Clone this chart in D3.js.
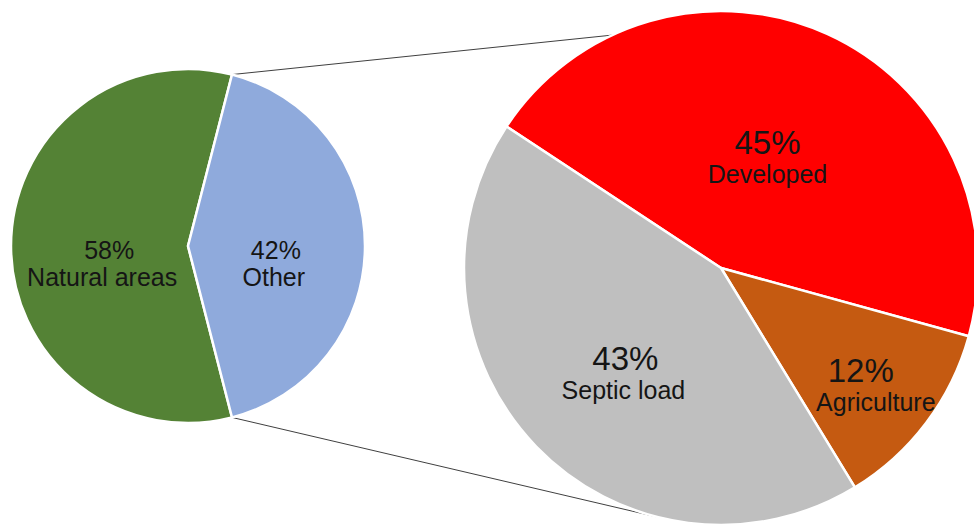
<!DOCTYPE html>
<html>
<head>
<meta charset="utf-8">
<script src="https://cdn.jsdelivr.net/npm/d3@7"></script>
<style>
  html, body { margin: 0; padding: 0; background: #fff; }
  svg { display: block; }
  text { font-family: "Liberation Sans", Arial, sans-serif; fill: #151515; }
</style>
</head>
<body>
<svg id="chart" width="974" height="527"></svg>
<script>
// ---- data ----
const mainCategories = ["Natural areas", "Other"];
const mainValues = [58, 42];
const mainColors = ["#548235", "#8faadc"];

const subCategories = ["Developed", "Agriculture", "Septic load"];
const subValues = [45, 12, 43];
const subColors = ["#ff0000", "#c55a11", "#bfbfbf"];

// ---- layout ----
const svg = d3.select("#chart");
const deg = Math.PI / 180;

const main = { cx: 188, cy: 246, r: 177 };
const sub = { cx: 721, cy: 268, r: 257 };

// Main pie: "Other" slice centred on the right side (90deg)
const otherShare = mainValues[1] / d3.sum(mainValues);
const otherHalf = otherShare * Math.PI;
const mainStart = Math.PI / 2 + otherHalf;
const mainPie = d3.pie().sort(null).value(d => d)
  .startAngle(mainStart).endAngle(mainStart + 2 * Math.PI);
const mainArcs = mainPie(mainValues);

const subStart = -56.6 * deg;
const subPie = d3.pie().sort(null).value(d => d)
  .startAngle(subStart).endAngle(subStart + 2 * Math.PI);
const subArcs = subPie(subValues);

// ---- connector lines (drawn beneath the pies) ----
const otherArc = mainArcs[1];
function onCircle(c, a) { return [c.cx + c.r * Math.sin(a), c.cy - c.r * Math.cos(a)]; }
const pTop = onCircle(main, otherArc.startAngle - 2 * Math.PI);
const pBot = onCircle(main, otherArc.endAngle - 2 * Math.PI);
const qTop = onCircle(sub, -25 * deg);
const qBot = onCircle(sub, 194 * deg);

svg.append("g").selectAll("line")
  .data([[pTop, qTop], [pBot, qBot]])
  .join("line")
  .attr("x1", d => d[0][0]).attr("y1", d => d[0][1])
  .attr("x2", d => d[1][0]).attr("y2", d => d[1][1])
  .attr("stroke", "#404040").attr("stroke-width", 1);

// ---- main pie ----
const mainArc = d3.arc().innerRadius(0).outerRadius(main.r);
const gMain = svg.append("g").attr("transform", `translate(${main.cx},${main.cy})`);
gMain.selectAll("path").data(mainArcs).join("path")
  .attr("d", mainArc)
  .attr("fill", (d, i) => mainColors[i])
  .attr("stroke", "#fff").attr("stroke-width", 2.5).attr("stroke-linejoin", "round");

const mainLabelArc = d3.arc().innerRadius(main.r * 0.485).outerRadius(main.r * 0.485);
const mainPctDx = [7, 2];
const mainLabels = gMain.selectAll("g.lbl").data(mainArcs).join("g")
  .attr("class", "lbl")
  .attr("transform", d => { const c = mainLabelArc.centroid(d); return `translate(${c[0]},${c[1] + 18.5})`; });
mainLabels.append("text").attr("text-anchor", "middle").attr("y", -5.5)
  .attr("x", (d, i) => mainPctDx[i])
  .style("font-size", "25px")
  .text((d, i) => Math.round(mainValues[i] / d3.sum(mainValues) * 100) + "%");
mainLabels.append("text").attr("text-anchor", "middle").attr("y", 21.5)
  .style("font-size", "25px")
  .text((d, i) => mainCategories[i]);

// ---- sub pie ----
const subArc = d3.arc().innerRadius(0).outerRadius(sub.r);
const gSub = svg.append("g").attr("transform", `translate(${sub.cx},${sub.cy})`);
gSub.selectAll("path").data(subArcs).join("path")
  .attr("d", subArc)
  .attr("fill", (d, i) => subColors[i])
  .attr("stroke", "#fff").attr("stroke-width", 2.5).attr("stroke-linejoin", "round");

const subLabelRadius = [0.465, 0.73, 0.56];
const subLabelAngleShift = [-1.5 * deg, 2 * deg, -3.3 * deg];
const subPctDx = [0, -6, 2];
const subNameDx = [0, 9, 0];
const subLabels = gSub.selectAll("g.lbl").data(subArcs).join("g")
  .attr("class", "lbl")
  .attr("transform", (d, i) => {
    const a = (d.startAngle + d.endAngle) / 2 + subLabelAngleShift[i];
    const rr = sub.r * subLabelRadius[i];
    return `translate(${rr * Math.sin(a)},${-rr * Math.cos(a)})`;
  });
subLabels.append("text").attr("text-anchor", "middle").attr("y", -4)
  .attr("x", (d, i) => subPctDx[i])
  .style("font-size", "33px")
  .text((d, i) => Math.round(subValues[i] / d3.sum(subValues) * 100) + "%");
subLabels.append("text").attr("text-anchor", "middle").attr("y", 25)
  .attr("x", (d, i) => subNameDx[i])
  .style("font-size", "25px")
  .text((d, i) => subCategories[i]);
</script>
</body>
</html>
